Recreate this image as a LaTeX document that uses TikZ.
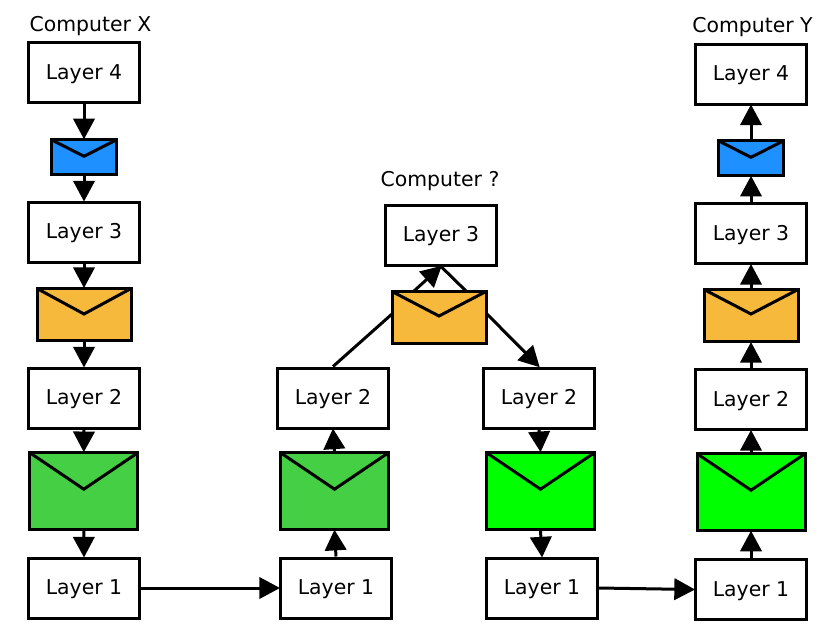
\documentclass[tikz,border=0pt]{standalone}
\usepackage{fontspec}
\setmainfont{DejaVu Sans}
\usetikzlibrary{arrows.meta}
\definecolor{mblue}{HTML}{1E90FF}
\definecolor{morange}{HTML}{F6B93B}
\definecolor{mdgreen}{HTML}{44CF44}
\definecolor{mgreen}{HTML}{00FF00}
\tikzset{x=0.75pt,y=-0.75pt,
 layer/.style={draw=black,line width=2.25pt,fill=white,minimum width=83.25pt,minimum height=45pt,inner sep=0pt,text height=13.3pt,text depth=3pt,font=\fontsize{15.3pt}{18pt}\selectfont},
 lbl/.style={inner sep=0pt,font=\fontsize{15.3pt}{18pt}\selectfont,anchor=base},
 env/.style={draw=black,line width=2.25pt,inner sep=0pt},
 flap/.style={draw=black,line width=2.25pt,line join=miter},
 conn/.style={draw=black,line width=2.25pt,shorten >=-0.75pt,-{Triangle[length=15.5pt,width=16pt]}},
 plain/.style={draw=black,line width=2.25pt}}
% \envelope{name}{cx}{top}{width}{height}{flapdepth}{colour}
\newcommand{\envelope}[7]{%
 \node[env,fill=#7,minimum width=#4*0.75pt,minimum height=#5*0.75pt,anchor=north] (#1) at (#2,#3) {};
 \draw[flap] ({#2-#4/2},{#3+1.5}) -- (#2,{#3+#6}) -- ({#2+#4/2},{#3+1.5});}
\begin{document}
\begin{tikzpicture}
\useasboundingbox (0,0) rectangle (830,628);
\fill[white] (0,0) rectangle (830,628);
\node[layer] (x4) at (84,72.5) {Layer 4};
\node[layer] (x3) at (84,232) {Layer 3};
\node[layer] (x2) at (84,398) {Layer 2};
\node[layer] (x1) at (84,588) {Layer 1};
\node[layer] (a2) at (333,398) {Layer 2};
\node[layer] (a1) at (336,588) {Layer 1};
\node[layer] (m3) at (441,235) {Layer 3};
\node[layer] (b2) at (539,398) {Layer 2};
\node[layer] (b1) at (542,588) {Layer 1};
\node[layer] (y4) at (751,74) {Layer 4};
\node[layer] (y3) at (751,233.5) {Layer 3};
\node[layer] (y2) at (751,399.5) {Layer 2};
\node[layer] (y1) at (751,589.5) {Layer 1};
\node[lbl] (tx) at (90.5,31) {Computer X};
\node[lbl] (ty) at (752.5,32.5) {Computer Y};
\node[lbl] (tm) at (440,186) {Computer ?};
\coordinate (mr) at (466,291);
\coordinate (ml) at (392,314);
\coordinate (ms) at (414,291);
\coordinate (mo) at (487,314);
\draw[plain] (m3.south) -- (mr);
\draw[plain] (a2.north) -- (ml);
\draw[conn] (ms) -- (m3.south);
\envelope{ex1}{84}{138.3}{65}{34.5}{18}{mblue}
\envelope{ex2}{84}{287}{94}{52}{27}{morange}
\envelope{ex3}{83.8}{451.2}{108}{76.5}{38}{mdgreen}
\envelope{ea}{334.5}{451.2}{108}{76.5}{38}{mdgreen}
\envelope{em}{439}{290}{94}{52}{26}{morange}
\envelope{eb}{540.5}{451.2}{108}{76.5}{38}{mgreen}
\envelope{ey1}{751}{139.3}{65}{34.5}{18}{mblue}
\envelope{ey2}{751}{288}{94}{52}{26}{morange}
\envelope{ey3}{751}{452.2}{108}{76.5}{38}{mgreen}
\draw[conn] (x4.south) -- (ex1.north);
\draw[conn] (ex1.south) -- (x3.north);
\draw[conn] (x3.south) -- (ex2.north);
\draw[conn] (ex2.south) -- (x2.north);
\draw[conn] (x2.south) -- (ex3.north);
\draw[conn] (ex3.south) -- (x1.north);
\draw[conn] (x1.east) -- (a1.west);
\draw[conn] (a1.north) -- (ea.south);
\draw[conn] (ea.north) -- (a2.south);
\draw[conn] (mo) -- (b2.north);
\draw[conn] (b2.south) -- (eb.north);
\draw[conn] (eb.south) -- (b1.north);
\draw[conn] (b1.east) -- (y1.west);
\draw[conn] (y1.north) -- (ey3.south);
\draw[conn] (ey3.north) -- (y2.south);
\draw[conn] (y2.north) -- (ey2.south);
\draw[conn] (ey2.north) -- (y3.south);
\draw[conn] (y3.north) -- (ey1.south);
\draw[conn] (ey1.north) -- (y4.south);
\end{tikzpicture}
\end{document}
